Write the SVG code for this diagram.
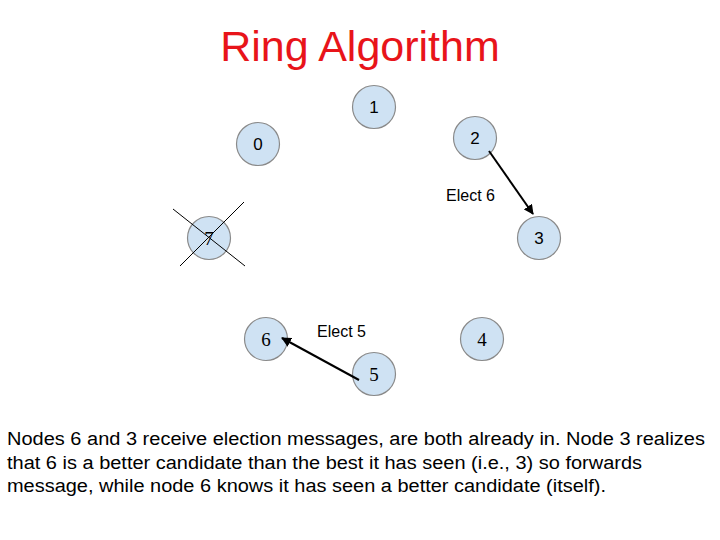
<svg xmlns="http://www.w3.org/2000/svg" width="720" height="540" viewBox="0 0 720 540">
<style>
.node circle{fill:#cfe2f3;stroke:#8a8a8a;stroke-width:1.2}
.sans{font-family:"Liberation Sans",Arial,sans-serif;font-size:17px;fill:#000;text-anchor:middle}
.serif{font-family:"Liberation Serif","Times New Roman",serif;font-size:19px;fill:#000;text-anchor:middle}
.lbl{font-family:"Liberation Sans",Arial,sans-serif;font-size:16px;fill:#000}
.body{font-family:"Liberation Sans",Arial,sans-serif;font-size:18px;fill:#000}
.conn line{stroke:#000;stroke-width:2}
.cross line{stroke:#000;stroke-width:1}
</style>
<defs>
<marker id="ah" viewBox="0 0 10 10" refX="9" refY="5" markerWidth="5" markerHeight="5" orient="auto" markerUnits="strokeWidth">
<path d="M0,0 L10,5 L0,10 z" fill="#000"/>
</marker>
</defs>
<rect width="720" height="540" fill="#fff"/>
<text x="360" y="61" font-family="'Liberation Sans',Arial,sans-serif" font-size="43" fill="#e8141a" text-anchor="middle">Ring Algorithm</text>
<g id="node1" class="node"><circle cx="374" cy="107" r="21.5"/><text class="sans" x="374" y="113">1</text></g>
<g id="node2" class="node"><circle cx="475" cy="138" r="21.5"/><text class="sans" x="475" y="144">2</text></g>
<g id="node0" class="node"><circle cx="258" cy="144" r="21.5"/><text class="sans" x="258" y="150">0</text></g>
<g id="node7" class="node"><circle cx="209" cy="238" r="21.5"/><text class="serif" x="209" y="245">7</text>
<g class="cross"><line x1="173" y1="209" x2="245" y2="266"/><line x1="244" y1="202" x2="180" y2="266"/></g></g>
<g id="node3" class="node"><circle cx="539" cy="238" r="21.5"/><text class="sans" x="539" y="244">3</text></g>
<g id="node6" class="node"><circle cx="266" cy="339" r="21.5"/><text class="serif" x="266" y="346">6</text></g>
<g id="node4" class="node"><circle cx="482" cy="339" r="21.5"/><text class="serif" x="482" y="346">4</text></g>
<g id="node5" class="node"><circle cx="374" cy="374" r="21.5"/><text class="serif" x="374" y="381">5</text></g>
<g id="connectors" class="conn">
<line x1="489" y1="151" x2="533" y2="214" marker-end="url(#ah)"/>
<line x1="359" y1="380" x2="282" y2="338" marker-end="url(#ah)"/>
</g>
<text class="lbl" x="446" y="201">Elect 6</text>
<text class="lbl" x="317" y="337">Elect 5</text>
<text class="body" x="7" y="445" textLength="698" lengthAdjust="spacingAndGlyphs">Nodes 6 and 3 receive election messages, are both already in. Node 3 realizes</text>
<text class="body" x="7" y="469" textLength="635" lengthAdjust="spacingAndGlyphs">that 6 is a better candidate than the best it has seen (i.e., 3) so forwards</text>
<text class="body" x="7" y="492" textLength="599" lengthAdjust="spacingAndGlyphs">message, while node 6 knows it has seen a better candidate (itself).</text>
</svg>
